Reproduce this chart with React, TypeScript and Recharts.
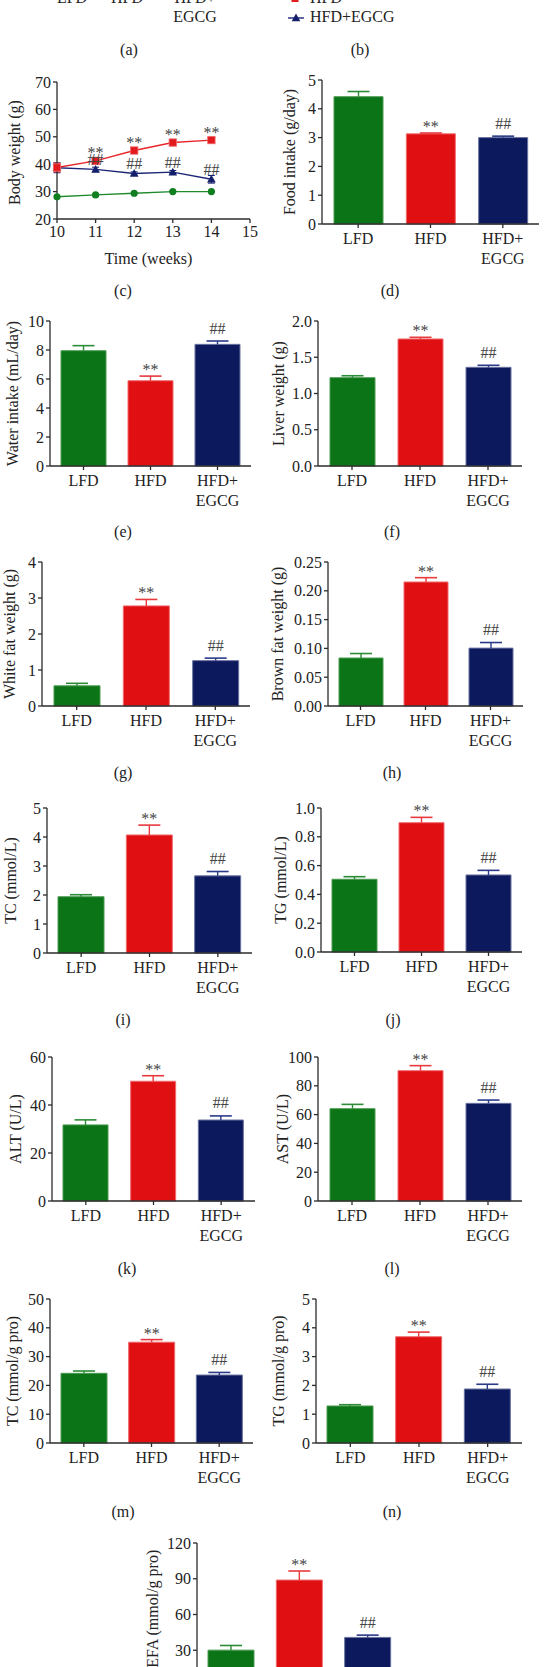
import React from 'react';
import { BarChart, Bar, XAxis, YAxis, Cell, LabelList, LineChart, Line, ErrorBar } from 'recharts';

const FONT = "'Liberation Serif', 'Times New Roman', serif";
const FS = 16;
const AXIS = { stroke: '#2b2b2b', strokeWidth: 1.3 };
const TICK = { fontSize: FS, fill: '#222', fontFamily: FONT };

// ---------- categories ----------
const groups = ['LFD', 'HFD', 'HFD+\nEGCG'];
const groupColors = ['#0b7416', '#e00f12', '#0d195d'];
const edgeColors = ['#4a9a51', '#f06b6e', '#6a73a0'];
const whiskerColors = ['#2c8c37', '#e8393d', '#2a3a88'];
const groupMarks = ['', '**', '##'];

// ---------- (c) body weight ----------
const weeks = [10, 11, 12, 13, 14];
const weekTicks = [10, 11, 12, 13, 14, 15];
const bwTicks = [20, 30, 40, 50, 60, 70];
const bwLFD = [28.1, 28.8, 29.4, 30.0, 30.0];
const bwLFDErr = [0.4, 0.3, 0.3, 0.3, 0.3];
const bwHFD = [38.8, 41.2, 45.0, 47.9, 48.8];
const bwHFDErr = [1.6, 1.2, 1.0, 0.7, 0.7];
const bwHFDMarks = ['', '**', '**', '**', '**'];
const bwEGCG = [38.7, 38.1, 36.6, 37.1, 34.5];
const bwEGCGErr = [1.8, 0.8, 0.6, 0.6, 1.4];
const bwEGCGMarks = ['', '##', '##', '##', '##'];

// ---------- bar panels ----------
const foodIntake = [4.42, 3.13, 3.0];
const foodIntakeErr = [0.18, 0.03, 0.05];
const foodTicks = [0, 1, 2, 3, 4, 5];

const waterIntake = [7.95, 5.88, 8.39];
const waterIntakeErr = [0.35, 0.32, 0.23];
const waterTicks = [0, 2, 4, 6, 8, 10];

const liverWeight = [1.218, 1.752, 1.361];
const liverWeightErr = [0.027, 0.023, 0.028];
const liverTicks = [0, 0.5, 1.0, 1.5, 2.0];

const whiteFat = [0.56, 2.78, 1.26];
const whiteFatErr = [0.07, 0.18, 0.07];
const whiteTicks = [0, 1, 2, 3, 4];

const brownFat = [0.0833, 0.2153, 0.1005];
const brownFatErr = [0.0078, 0.0075, 0.0097];
const brownTicks = [0, 0.05, 0.1, 0.15, 0.2, 0.25];

const serumTC = [1.94, 4.07, 2.66];
const serumTCErr = [0.07, 0.34, 0.15];
const serumTCTicks = [0, 1, 2, 3, 4, 5];

const serumTG = [0.505, 0.898, 0.535];
const serumTGErr = [0.018, 0.037, 0.032];
const serumTGTicks = [0, 0.2, 0.4, 0.6, 0.8, 1.0];

const alt = [31.7, 49.9, 33.75];
const altErr = [2.1, 2.3, 1.7];
const altTicks = [0, 20, 40, 60];

const ast = [64.1, 90.5, 67.8];
const astErr = [3.0, 3.5, 2.3];
const astTicks = [0, 20, 40, 60, 80, 100];

const liverTC = [24.2, 35.0, 23.6];
const liverTCErr = [0.8, 0.9, 0.9];
const liverTCTicks = [0, 10, 20, 30, 40, 50];

const liverTG = [1.285, 3.69, 1.875];
const liverTGErr = [0.045, 0.16, 0.165];
const liverTGTicks = [0, 1, 2, 3, 4, 5];

const nefa = [30.1, 88.9, 40.8];
const nefaErr = [3.9, 7.6, 1.9];
const nefaTicks = [0, 30, 60, 90, 120];

// ---------- helpers ----------
const GroupTick = (p: any) => {
  const { x, y, payload } = p;
  const lines = String(payload.value).split('\n');
  return (
    <text x={x} y={y} textAnchor="middle" fontSize={FS} fill="#222" fontFamily={FONT}>
      {lines.map((l, i) => (
        <tspan key={i} x={x} dy={i === 0 ? 13.8 : 20}>{l}</tspan>
      ))}
    </text>
  );
};

const Whisker = (p: any) => {
  const { x, y, width, height, index } = p;
  if (!height || height <= 0) return <g />;
  const c = whiskerColors[index] ?? p.fill;
  const cx = x + width / 2;
  return (
    <g>
      <line x1={cx} x2={cx} y1={y} y2={y + height} stroke={c} strokeWidth={1.4} />
      <line x1={cx - 11} x2={cx + 11} y1={y} y2={y} stroke={c} strokeWidth={1.6} />
    </g>
  );
};

const MarkLabel = (p: any) => {
  const value = p.value;
  if (!value) return null;
  const vb = p.viewBox ?? { x: p.x, y: p.y, width: p.width, height: p.height };
  const x = Number(vb.x ?? p.x);
  const y = Number(vb.y ?? p.y);
  const w = Number(vb.width ?? p.width ?? 0);
  const off = value === '**' ? 1 : 7.5;
  return (
    <text x={x + w / 2} y={y - off} textAnchor="middle" fontSize={FS} fill="#444" fontFamily={FONT}>
      {value}
    </text>
  );
};

const LineMark = (p: any) => {
  const value = p.value;
  if (!value) return null;
  const x = Number(p.x ?? p.viewBox?.x);
  const y = Number(p.y ?? p.viewBox?.y);
  const off = value === '**' ? 2.5 : 4.5;
  return (
    <text x={x} y={y - off} textAnchor="middle" fontSize={FS} fill="#444" fontFamily={FONT}>
      {value}
    </text>
  );
};

const yLabel = (text: string, cx: number, cy: number) => () => (
  <text
    x={cx}
    y={cy}
    transform={`rotate(-90 ${cx} ${cy})`}
    textAnchor="middle"
    dominantBaseline="central"
    fontSize={FS}
    fill="#222"
    fontFamily={FONT}
  >
    {text}
  </text>
);

type BarPanelProps = {
  left: number; axisX: number; xEnd: number; yTop: number; y0: number;
  ticks: number[]; decimals: number; values: number[]; errors: number[];
  ylabel: string; labelX: number; barSize: number;
};

function BarPanel(props: BarPanelProps) {
  const { left, axisX, xEnd, yTop, y0, ticks, decimals, values, errors, ylabel, labelX, barSize } = props;
  const mTop = 24;
  const top = yTop - mTop;
  const xAxisH = 50;
  const height = y0 - top + xAxisH;
  const mRight = 6;
  const width = xEnd - left + mRight;
  const data = groups.map((g, i) => ({ name: g, v: values[i], e: errors[i], m: groupMarks[i] }));
  const max = ticks[ticks.length - 1];
  return (
    <div style={{ position: 'absolute', left, top, width, height }}>
      <BarChart width={width} height={height} data={data} margin={{ top: mTop, right: mRight, bottom: 0, left: 0 }}>
        <XAxis dataKey="name" height={xAxisH} tick={<GroupTick />} tickSize={4} tickMargin={2}
          axisLine={AXIS} tickLine={AXIS} interval={0} />
        <YAxis width={axisX - left} domain={[0, max]} ticks={ticks} interval={0}
          tickFormatter={(v: number) => v.toFixed(decimals)} tickSize={4} tickMargin={2}
          axisLine={AXIS} tickLine={AXIS} tick={TICK}
          label={yLabel(ylabel, labelX - left, (yTop + y0) / 2 - top)} />
        <Bar dataKey="v" stackId="s" barSize={barSize} isAnimationActive={false}>
          {data.map((d, i) => (
            <Cell key={i} fill={groupColors[i]} stroke={edgeColors[i]} strokeWidth={1} />
          ))}
        </Bar>
        <Bar dataKey="e" stackId="s" barSize={barSize} isAnimationActive={false} shape={<Whisker />}>
          {data.map((d, i) => (
            <Cell key={i} fill={whiskerColors[i]} />
          ))}
          <LabelList dataKey="m" content={<MarkLabel />} />
        </Bar>
      </BarChart>
    </div>
  );
}

const SquareDot = (p: any) => {
  const { cx, cy } = p;
  if (cx == null || cy == null) return <g />;
  return <rect x={cx - 3.7} y={cy - 3.7} width={7.4} height={7.4} fill="#e21a1e" stroke="#f06b6e" strokeWidth={0.8} />;
};
const TriDot = (p: any) => {
  const { cx, cy } = p;
  if (cx == null || cy == null) return <g />;
  return <polygon points={`${cx},${cy - 4.5} ${cx - 4.3},${cy + 3.3} ${cx + 4.3},${cy + 3.3}`} fill="#141f6b" />;
};
const CircleDot = (p: any) => {
  const { cx, cy } = p;
  if (cx == null || cy == null) return <g />;
  return <circle cx={cx} cy={cy} r={3.6} fill="#0f7f1f" />;
};

function BodyWeightPanel() {
  const yTop = 82;
  const y0 = 219;
  const mTop = 20;
  const top = yTop - mTop;
  const xAxisH = 50;
  const height = y0 - top + xAxisH;
  const axisX = 57;
  const xEnd = 250;
  const mRight = 10;
  const width = xEnd + mRight;
  const data = weeks.map((w, i) => ({
    week: w,
    lfd: bwLFD[i], lfdE: bwLFDErr[i],
    hfd: bwHFD[i], hfdE: bwHFDErr[i], hfdM: bwHFDMarks[i],
    egcg: bwEGCG[i], egcgE: bwEGCGErr[i], egcgM: bwEGCGMarks[i],
  }));
  const xl = () => (
    <text x={(axisX + xEnd) / 2 - 5} y={259 - top + 5} textAnchor="middle" fontSize={FS} fill="#222" fontFamily={FONT}>
      Time (weeks)
    </text>
  );
  return (
    <div style={{ position: 'absolute', left: 0, top, width, height }}>
      <LineChart width={width} height={height} data={data} margin={{ top: mTop, right: mRight, bottom: 0, left: 0 }}>
        <XAxis type="number" dataKey="week" domain={[10, 15]} ticks={weekTicks} interval={0} height={xAxisH}
          tickSize={4} tickMargin={3} axisLine={AXIS} tickLine={AXIS} tick={TICK} label={xl} />
        <YAxis width={axisX} domain={[20, 70]} ticks={bwTicks} interval={0} tickSize={4} tickMargin={2}
          axisLine={AXIS} tickLine={AXIS} tick={TICK}
          label={yLabel('Body weight (g)', 14, (yTop + y0) / 2 - top + 2)} />
        <Line dataKey="lfd" stroke="#1f8a2b" strokeWidth={1.4} dot={<CircleDot />} isAnimationActive={false}>
          <ErrorBar dataKey="lfdE" direction="y" width={3} stroke="#1f8a2b" strokeWidth={1} />
        </Line>
        <Line dataKey="egcg" stroke="#1b2676" strokeWidth={1.4} dot={<TriDot />} isAnimationActive={false}>
          <ErrorBar dataKey="egcgE" direction="y" width={3.5} stroke="#1b2676" strokeWidth={1.1} />
          <LabelList dataKey="egcgM" content={<LineMark />} />
        </Line>
        <Line dataKey="hfd" stroke="#e8262a" strokeWidth={1.4} dot={<SquareDot />} isAnimationActive={false}>
          <ErrorBar dataKey="hfdE" direction="y" width={3.5} stroke="#e8262a" strokeWidth={1.1} />
          <LabelList dataKey="hfdM" content={<LineMark />} />
        </Line>
      </LineChart>
    </div>
  );
}

const panelLabels: [string, number, number][] = [
  ['(a)', 129, 50], ['(b)', 360, 50],
  ['(c)', 123, 291], ['(d)', 390, 291],
  ['(e)', 123, 532], ['(f)', 392, 532],
  ['(g)', 123, 773], ['(h)', 392, 773],
  ['(i)', 123, 1020], ['(j)', 393, 1020],
  ['(k)', 127, 1269], ['(l)', 392, 1269],
  ['(m)', 123, 1512], ['(n)', 392, 1512],
];

function Overlay() {
  return (
    <svg width={544} height={1667} style={{ position: 'absolute', left: 0, top: 0, pointerEvents: 'none' }}>
      <g fontFamily={FONT} fontSize={FS} fill="#222">
        <text x={72} y={2.5} textAnchor="middle">LFD</text>
        <text x={127} y={2.5} textAnchor="middle">HFD</text>
        <text x={195} y={2.5} textAnchor="middle">HFD+</text>
        <text x={195} y={21.7} textAnchor="middle">EGCG</text>
        <line x1={287} x2={303} y1={-2} y2={-2} stroke="#e8262a" strokeWidth={1.4} />
        <rect x={291.5} y={-5} width={7} height={7} fill="#e21a1e" />
        <text x={310} y={2.5}>HFD</text>
        <line x1={288} x2={304} y1={18} y2={18} stroke="#1b2676" strokeWidth={1.4} />
        <polygon points="296,13.5 291.7,21.3 300.3,21.3" fill="#141f6b" />
        <text x={310} y={21.7}>HFD+EGCG</text>
        {panelLabels.map(([t, x, y]) => (
          <text key={t} x={x} y={y + 4.5} textAnchor="middle">{t}</text>
        ))}
      </g>
    </svg>
  );
}

export default function App() {
  return (
    <div style={{ position: 'absolute', left: 0, top: 0, width: 544, height: 1667, overflow: 'hidden', background: '#fff', fontFamily: FONT }}>
      <BodyWeightPanel />
      <BarPanel left={262} axisX={322} xEnd={539} yTop={80} y0={224} ticks={foodTicks} decimals={0}
        values={foodIntake} errors={foodIntakeErr} ylabel="Food intake (g/day)" labelX={289} barSize={49} />
      <BarPanel left={0} axisX={50} xEnd={251} yTop={321} y0={466} ticks={waterTicks} decimals={0}
        values={waterIntake} errors={waterIntakeErr} ylabel="Water intake (mL/day)" labelX={12} barSize={45} />
      <BarPanel left={262} axisX={318} xEnd={522} yTop={321} y0={466} ticks={liverTicks} decimals={1}
        values={liverWeight} errors={liverWeightErr} ylabel="Liver weight (g)" labelX={278} barSize={45} />
      <BarPanel left={0} axisX={42} xEnd={250} yTop={562} y0={706} ticks={whiteTicks} decimals={0}
        values={whiteFat} errors={whiteFatErr} ylabel="White fat weight (g)" labelX={9} barSize={46} />
      <BarPanel left={262} axisX={328} xEnd={523} yTop={562} y0={706} ticks={brownTicks} decimals={2}
        values={brownFat} errors={brownFatErr} ylabel="Brown fat weight (g)" labelX={277} barSize={44} />
      <BarPanel left={0} axisX={47} xEnd={252} yTop={808} y0={953} ticks={serumTCTicks} decimals={0}
        values={serumTC} errors={serumTCErr} ylabel="TC (mmol/L)" labelX={10} barSize={46} />
      <BarPanel left={262} axisX={321} xEnd={522} yTop={808} y0={952} ticks={serumTGTicks} decimals={1}
        values={serumTG} errors={serumTGErr} ylabel="TG (mmol/L)" labelX={280} barSize={45} />
      <BarPanel left={0} axisX={52} xEnd={255} yTop={1057} y0={1201} ticks={altTicks} decimals={0}
        values={alt} errors={altErr} ylabel="ALT (U/L)" labelX={15} barSize={45} />
      <BarPanel left={262} axisX={318} xEnd={522} yTop={1057} y0={1201} ticks={astTicks} decimals={0}
        values={ast} errors={astErr} ylabel="AST (U/L)" labelX={282} barSize={45} />
      <BarPanel left={0} axisX={50} xEnd={253} yTop={1299} y0={1443} ticks={liverTCTicks} decimals={0}
        values={liverTC} errors={liverTCErr} ylabel="TC (mmol/g pro)" labelX={12} barSize={46} />
      <BarPanel left={262} axisX={316} xEnd={522} yTop={1299} y0={1443} ticks={liverTGTicks} decimals={0}
        values={liverTG} errors={liverTGErr} ylabel="TG (mmol/g pro)" labelX={278} barSize={46} />
      <BarPanel left={140} axisX={197} xEnd={402} yTop={1543} y0={1686} ticks={nefaTicks} decimals={0}
        values={nefa} errors={nefaErr} ylabel="NEFA (mmol/g pro)" labelX={152} barSize={46} />
      <Overlay />
    </div>
  );
}
